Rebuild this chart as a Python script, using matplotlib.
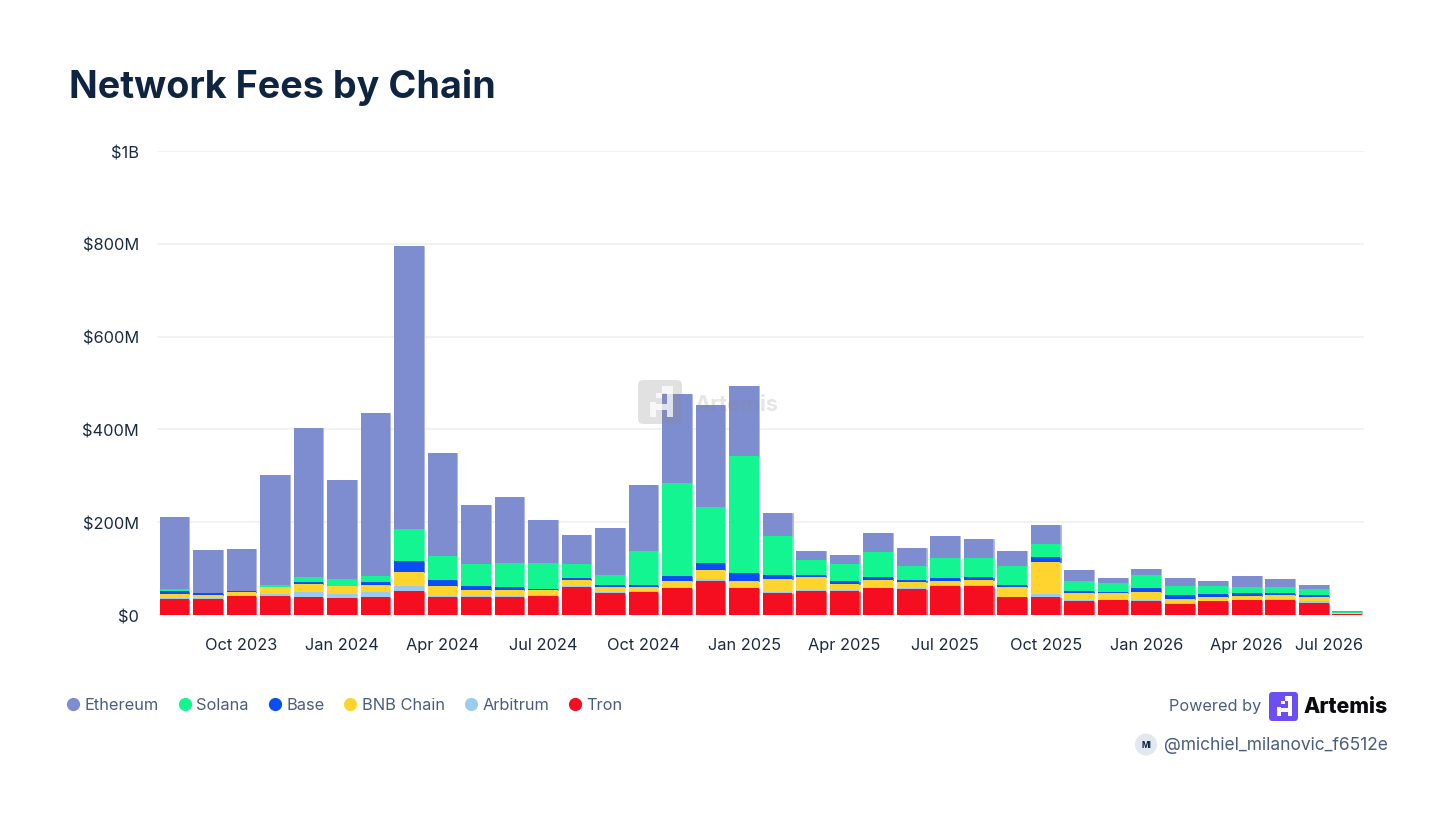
import numpy as np
import matplotlib
matplotlib.use("Agg")
import matplotlib.pyplot as plt
from matplotlib.lines import Line2D
from matplotlib.patches import Circle, FancyBboxPatch, PathPatch
from matplotlib.path import Path
from matplotlib.transforms import ScaledTranslation

plt.rcParams["font.family"] = ["Inter", "DejaVu Sans"]

months = ["Aug 2023", "Sep 2023", "Oct 2023", "Nov 2023", "Dec 2023", "Jan 2024", "Feb 2024", "Mar 2024", "Apr 2024",
          "May 2024", "Jun 2024", "Jul 2024", "Aug 2024", "Sep 2024", "Oct 2024", "Nov 2024", "Dec 2024", "Jan 2025",
          "Feb 2025", "Mar 2025", "Apr 2025", "May 2025", "Jun 2025", "Jul 2025", "Aug 2025", "Sep 2025", "Oct 2025",
          "Nov 2025", "Dec 2025", "Jan 2026", "Feb 2026", "Mar 2026", "Apr 2026", "May 2026", "Jun 2026", "Jul 2026"]

# values in $M, bottom of the stack first
tron = [34.5, 34.5, 40.0, 42.0, 39.5, 37.0, 39.5, 52.5, 39.5, 39.5, 39.5, 42.0,
        61.0, 47.5, 50.0, 57.5, 74.0, 57.5, 47.5, 52.5, 52.5, 57.5, 55.5, 63.0,
        63.0, 38.0, 39.5, 29.5, 31.5, 29.5, 24.5, 29.5, 31.5, 31.5, 26.5, 2.5]
arbitrum = [2.9, 2.9, 0.7, 4.3, 10.0, 8.6, 10.8, 10.8, 2.2, 0.7, 0.7, 0.7,
            2.2, 2.2, 0.7, 0.7, 3.6, 0.7, 2.2, 2.2, 0.7, 0.7, 2.2, 0.7,
            0.7, 1.4, 5.7, 2.2, 0.7, 2.2, 2.2, 0.7, 0.7, 2.9, 2.9, 0.7]
bnb = [8.6, 6.5, 8.6, 14.4, 17.2, 17.2, 15.0, 30.2, 21.5, 14.4, 14.4, 11.5,
       12.9, 11.5, 10.0, 15.0, 20.0, 15.0, 28.7, 27.3, 14.4, 18.0, 13.6, 9.3,
       12.2, 20.8, 69.6, 15.0, 14.4, 18.7, 7.9, 9.3, 9.3, 7.9, 10.0, 0.5]
base = [6.5, 3.6, 2.2, 0.5, 4.3, 0.7, 5.7, 22.3, 12.9, 8.6, 6.5, 1.0,
        2.9, 2.9, 4.3, 10.8, 15.0, 16.5, 8.6, 5.0, 5.7, 5.7, 5.0, 5.7,
        5.7, 5.0, 10.8, 5.7, 3.6, 7.9, 7.9, 5.7, 5.0, 5.0, 2.9, 0.5]
solana = [2.9, 0.7, 0.7, 4.3, 10.8, 14.4, 12.2, 70.4, 51.7, 46.7, 51.0, 56.0,
          30.9, 23.0, 73.2, 201.0, 120.6, 253.5, 84.0, 31.6, 36.6, 54.6, 28.7, 44.5,
          41.6, 39.5, 26.6, 20.8, 18.0, 28.7, 20.8, 18.0, 13.6, 12.9, 12.9, 2.2]
ethereum = [155.0, 92.0, 91.0, 237.0, 321.0, 213.5, 352.0, 609.0, 221.0, 126.5, 143.0, 94.0,
            62.0, 101.0, 143.0, 191.5, 219.0, 150.0, 48.0, 19.5, 20.0, 41.0, 39.0, 48.0,
            40.5, 33.0, 41.0, 24.0, 10.5, 12.5, 15.5, 10.5, 23.0, 18.0, 9.5, 2.5]

series = [("Tron", tron, "#F50D20", "#F94A58"),
          ("Arbitrum", arbitrum, "#9CCBF0", "#B5D8F4"),
          ("BNB Chain", bnb, "#FFD42E", "#FFDF66"),
          ("Base", base, "#0A4DF5", "#3C72F7"),
          ("Solana", solana, "#12F590", "#4FF8AC"),
          ("Ethereum", ethereum, "#7E8CD0", "#A3ADDE")]
legend_order = ["Ethereum", "Solana", "Base", "BNB Chain", "Arbitrum", "Tron"]

yticks = [0, 200, 400, 600, 800, 1000]
yticklabels = ["$0", "$200M", "$400M", "$600M", "$800M", "$1B"]
quarter_idx = [2, 5, 8, 11, 14, 17, 20, 23, 26, 29, 32, 35]
quarter_labels = ["Oct 2023", "Jan 2024", "Apr 2024", "Jul 2024", "Oct 2024", "Jan 2025",
                  "Apr 2025", "Jul 2025", "Oct 2025", "Jan 2026", "Apr 2026", "Jul 2026"]

W, H = 1456, 819
NAVY = "#0F2440"
TICK = "#1B2A41"
SLATE = "#4A5D7E"
FS = 11.8

fig = plt.figure(figsize=(W / 100, H / 100), dpi=100, facecolor="white")

# plot area in pixels: x 157-1364, y 151-615
ax = fig.add_axes([157 / W, 1 - 615 / H, (1364 - 157) / W, (615 - 151) / H])
x = np.arange(len(months))
bottom = np.zeros(len(months))
for name, vals, col, edge in series:
    # lighter rim underneath, flat face on top so thin segments stay visible
    ax.bar(x, vals, width=0.89, bottom=bottom, color=edge, edgecolor=edge, linewidth=0.5, zorder=2.5)
    ax.bar(x, vals, width=0.885, bottom=bottom, color=col, linewidth=0, zorder=3)
    bottom += np.array(vals)

ax.set_xlim(-0.52, 35.5)
ax.set_ylim(0, 1000)
ax.set_yticks(yticks, yticklabels)
ax.set_xticks(quarter_idx, quarter_labels)
ax.grid(axis="y", color="#EEEFF1", linewidth=1.1, zorder=0)
ax.set_axisbelow(True)
for s in ax.spines.values():
    s.set_visible(False)
ax.tick_params(axis="y", length=0, pad=13, labelsize=FS, labelcolor=TICK)
ax.tick_params(axis="x", length=0, pad=16.5, labelsize=FS, labelcolor=TICK)

for lab in ax.get_yticklabels():
    lab.set_transform(lab.get_transform() + ScaledTranslation(0, -0.01, fig.dpi_scale_trans))

# last label is pushed left so it stays inside the plot
last = ax.get_xticklabels()[-1]
last.set_ha("right")
last.set_transform(last.get_transform() + ScaledTranslation(0.16, 0, fig.dpi_scale_trans))

handles = []
by_name = {s[0]: s for s in series}
for name in legend_order:
    handles.append(Line2D([], [], linestyle="none", marker="o", markersize=9.5, color=by_name[name][2],
                          markeredgewidth=0, label=name))
fig.legend(handles=handles, loc="center left", bbox_to_anchor=(67 / W, 1 - 705 / H), ncol=6, frameon=False,
           fontsize=FS, labelcolor=SLATE, handlelength=0.75, handletextpad=0.33, columnspacing=1.2,
           borderpad=0, borderaxespad=0)

fig.text(69 / W, 1 - 87 / H, "Network Fees by Chain", fontsize=27.2, fontweight="bold", color=NAVY, va="center")

# overlay in pixel coordinates for watermark and footer
ov = fig.add_axes([0, 0, 1, 1], zorder=5)
ov.set_xlim(0, W)
ov.set_ylim(H, 0)
ov.axis("off")
ov.patch.set_alpha(0)


def glyph_path(x0, y0, s):
    # blocky "A" of the logo, outer outline plus counter
    outer = [(.27, .84), (.27, .50), (.42, .50), (.42, .30), (.55, .30), (.55, .14), (.79, .14), (.79, .84),
             (.65, .84), (.65, .68), (.42, .68), (.42, .84), (.27, .84)]
    inner = [(.42, .55), (.65, .55), (.65, .30), (.55, .30), (.55, .42), (.42, .42), (.42, .55)]
    verts, codes = [], []
    for poly in (outer, inner):
        verts += [(x0 + a * s, y0 + b * s) for a, b in poly]
        codes += [Path.MOVETO] + [Path.LINETO] * (len(poly) - 2) + [Path.CLOSEPOLY]
    return Path(verts, codes)


def logo(x0, y0, s, col, glyph_col, alpha=1.0, glyph_alpha=1.0):
    r = s * 0.12
    ov.add_patch(FancyBboxPatch((x0 + r, y0 + r), s - 2 * r, s - 2 * r, boxstyle=f"round,pad={r},rounding_size={r}",
                                facecolor=col, edgecolor="none", alpha=alpha))
    ov.add_patch(PathPatch(glyph_path(x0, y0, s), facecolor=glyph_col, edgecolor="none", alpha=glyph_alpha))


logo(638, 380, 44, "#8A8A8A", "#FFFFFF", alpha=0.25, glyph_alpha=0.75)
ov.text(694, 405, "Artemis", fontsize=15.6, fontweight="bold", color="#8A8A8A", alpha=0.22, va="center", ha="left")

ov.text(1261, 706.5, "Powered by", fontsize=11.7, color=SLATE, va="center", ha="right")
logo(1269, 692, 29, "#6C4EF2", "#FFFFFF")
ov.text(1388, 707, "Artemis", fontsize=15.3, fontweight="heavy", color="#0A0A0F", va="center", ha="right")

ov.add_patch(Circle((1146, 744.5), 11, facecolor="#E2E8F0", edgecolor="none"))
ov.text(1146, 745, "MI", fontsize=6, fontweight="bold", color=NAVY, va="center", ha="center")
ov.text(1388, 745, "@michiel_milanovic_f6512e", fontsize=12.5, color=SLATE, va="center", ha="right")

fig.savefig("out.png", dpi=100)
